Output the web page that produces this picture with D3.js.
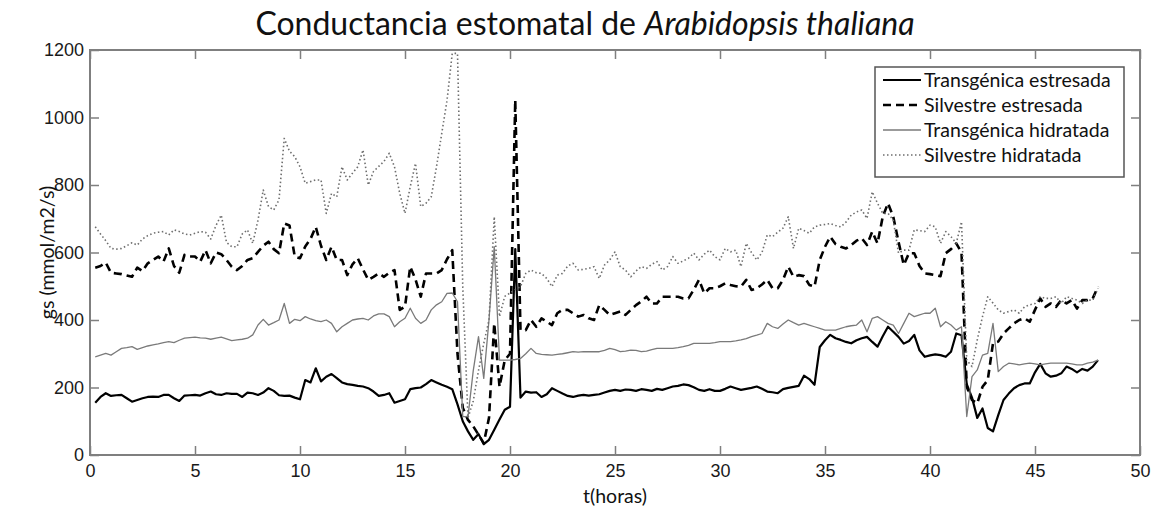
<!DOCTYPE html>
<html>
<head>
<meta charset="utf-8">
<script src="https://cdn.jsdelivr.net/npm/d3@7"></script>
<style>
  body { margin: 0; background: #fff; }
</style>
</head>
<body>
<svg id="chart"></svg>
<script>
// sampling times (h)
var hours = [
  0.25, 0.5, 0.75, 1, 1.25, 1.5, 1.75, 2, 2.25, 2.5, 2.75, 3, 3.25, 3.5, 3.75, 4,
  4.25, 4.5, 4.75, 5, 5.25, 5.5, 5.75, 6, 6.25, 6.5, 6.75, 7, 7.25, 7.5, 7.75, 8,
  8.25, 8.5, 8.75, 9, 9.25, 9.5, 9.75, 10, 10.25, 10.5, 10.75, 11, 11.25, 11.5, 11.75, 12,
  12.25, 12.5, 12.75, 13, 13.25, 13.5, 13.75, 14, 14.25, 14.5, 14.75, 15, 15.25, 15.5, 15.75, 16,
  16.25, 16.5, 16.75, 17, 17.25, 17.5, 17.75, 18, 18.25, 18.5, 18.75, 19, 19.25, 19.5, 19.75, 20,
  20.25, 20.5, 20.75, 21, 21.25, 21.5, 21.75, 22, 22.25, 22.5, 22.75, 23, 23.25, 23.5, 23.75, 24,
  24.25, 24.5, 24.75, 25, 25.25, 25.5, 25.75, 26, 26.25, 26.5, 26.75, 27, 27.25, 27.5, 27.75, 28,
  28.25, 28.5, 28.75, 29, 29.25, 29.5, 29.75, 30, 30.25, 30.5, 30.75, 31, 31.25, 31.5, 31.75, 32,
  32.25, 32.5, 32.75, 33, 33.25, 33.5, 33.75, 34, 34.25, 34.5, 34.75, 35, 35.25, 35.5, 35.75, 36,
  36.25, 36.5, 36.75, 37, 37.25, 37.5, 37.75, 38, 38.25, 38.5, 38.75, 39, 39.25, 39.5, 39.75, 40,
  40.25, 40.5, 40.75, 41, 41.25, 41.5, 41.75, 42, 42.25, 42.5, 42.75, 43, 43.25, 43.5, 43.75, 44,
  44.25, 44.5, 44.75, 45, 45.25, 45.5, 45.75, 46, 46.25, 46.5, 46.75, 47, 47.25, 47.5, 47.75, 48
];

// gs (mmol/m2/s), one value per entry of hours
var transgenicaEstresada = [
  155, 172, 183, 175,  177, 178, 168, 158,  163, 168, 172, 173,  172, 178, 178, 168,
  160, 176, 177, 178,  176, 183, 188, 180,  178, 183, 181, 181,  172, 185, 183, 178,
  185, 198, 190, 177,  175, 176, 170, 165,  222, 215, 257, 218,  232, 240, 228, 215,
  210, 208, 205, 203,  198, 188, 175, 178,  183, 155, 160, 165,  195, 198, 200, 210,
  222, 215, 208, 202,  195, 150, 100, 70,   45, 62, 32, 45,      75, 105, 134, 143,
  610, 170, 188, 185,  186, 172, 180, 198,  190, 182, 175, 172,  176, 178, 176, 178,
  180, 185, 190, 193,  190, 194, 193, 190,  195, 193, 190, 196,  193, 198, 203, 205,
  209, 207, 201, 193,  190, 195, 190, 190,  196, 203, 198, 193,  196, 199, 203, 196,
  188, 186, 183, 195,  199, 202, 205, 235,  225, 208, 320, 340,  356, 346, 341, 335,
  331, 340, 346, 350,  335, 321, 352, 380,  365, 350, 330, 338,  356, 310, 291, 295,
  298, 296, 291, 306,  360, 355, 210, 170,  110, 138, 80, 70,    118, 163, 182, 198,
  207, 212, 212, 245,  270, 242, 232, 235,  242, 262, 255, 245,  255, 250, 262, 281
];

var silvestreEstresada = [
  555, 560, 570, 540,  538, 536, 532, 528,  555, 545, 568, 578,  588, 573, 612, 560,
  540, 593, 588, 588,  573, 607, 568, 600,  595, 578, 558, 548,  560, 578, 583, 602,
  620, 632, 610, 598,  686, 680, 588, 583,  618, 640, 676, 620,  578, 617, 578, 578,
  533, 565, 583, 550,  519, 528, 538, 528,  540, 548, 430, 440,  558, 520, 469, 538,
  538, 538, 548, 580,  607, 300, 140, 104,  85, 60, 35, 110,     390, 202, 281, 300,
  1052, 370, 370, 400, 380, 405, 395, 385,  420, 430, 430, 420,  410, 415, 405, 400,
  444, 430, 415, 420,  425, 415, 430, 444,  455, 469, 449, 449,  469, 469, 469, 469,
  464, 464, 490, 519,  479, 494, 494, 500,  509, 504, 500, 499,  519, 489, 494, 505,
  519, 494, 494, 519,  558, 528, 533, 530,  504, 499, 578, 617,  647, 625, 617, 612,
  622, 635, 642, 622,  662, 627, 706, 746,  706, 632, 563, 598,  598, 560, 538, 536,
  533, 530, 598, 610,  627, 600, 202, 163,  153, 202, 222, 331,  336, 360, 375, 390,
  400, 405, 395, 430,  464, 439, 449, 439,  459, 449, 459, 434,  459, 459, 464, 499
];

var transgenicaHidratada = [
  291, 296, 301, 296,  306, 316, 318, 321,  313, 318, 323, 326,  329, 333, 336, 333,
  340, 346, 348, 349,  347, 346, 343, 346,  349, 344, 339, 341,  343, 346, 356, 385,
  402, 385, 392, 400,  449, 390, 402, 398,  410, 403, 398, 395,  400, 390, 365, 380,
  390, 400, 403, 405,  400, 412, 418, 418,  410, 380, 395, 405,  435, 405, 390, 400,
  430, 445, 454, 479,  480, 454, 114, 114,  250, 351, 227, 400,  617, 281, 281, 281,
  283, 286, 300, 316,  301, 298, 297, 296,  298, 300, 303, 306,  305, 306, 306, 306,
  306, 310, 316, 312,  306, 308, 311, 310,  306, 308, 312, 316,  316, 316, 316, 318,
  321, 325, 331, 331,  331, 331, 333, 336,  336, 336, 338, 341,  345, 351, 355, 360,
  390, 380, 375, 388,  400, 392, 385, 390,  385, 380, 375, 370,  370, 370, 375, 380,
  383, 385, 400, 365,  405, 410, 400, 390,  385, 360, 390, 420,  410, 415, 420, 420,
  435, 380, 395, 385,  370, 380, 114, 232,  252, 296, 301, 390,  247, 262, 272, 270,
  267, 270, 272, 270,  267, 270, 272, 272,  272, 272, 270, 267,  267, 272, 275, 281
];

var silvestreHidratada = [
  676, 655, 635, 612,  610, 612, 620, 629,  622, 640, 650, 657,  660, 662, 652, 667,
  662, 655, 652, 657,  662, 660, 640, 680,  711, 630, 617, 617,  655, 667, 627, 696,
  785, 736, 726, 756,  938, 900, 884, 854,  805, 810, 815, 815,  716, 775, 765, 854,
  815, 835, 854, 904,  800, 840, 855, 870,  894, 854, 775, 716,  795, 864, 736, 746,
  765, 854, 953, 1050, 1190, 1190, 500, 110, 160, 250, 330, 400, 706, 410, 470, 480,
  490, 499, 538, 548,  540, 538, 523, 499,  533, 538, 560, 568,  548, 550, 553, 558,
  523, 563, 578, 602,  558, 548, 528, 545,  558, 553, 565, 573,  548, 558, 588, 568,
  575, 583, 598, 578,  595, 607, 588, 578,  612, 602, 607, 558,  627, 600, 578, 600,
  652, 647, 660, 672,  706, 612, 672, 665,  657, 676, 681, 683,  686, 680, 676, 690,
  711, 720, 726, 701,  780, 746, 716, 716,  696, 598, 607, 607,  667, 665, 662, 681,
  676, 627, 662, 647,  627, 691, 281, 262,  341, 410, 469, 450,  430, 420, 425, 430,
  420, 439, 445, 449,  469, 464, 464, 469,  449, 469, 464, 459,  449, 459, 459, 494
];

var seriesNames = ["Transgénica estresada", "Silvestre estresada", "Transgénica hidratada", "Silvestre hidratada"];
var xTicks = [0, 5, 10, 15, 20, 25, 30, 35, 40, 45, 50];
var yTicks = [0, 200, 400, 600, 800, 1000, 1200];

var width = 1161, height = 516;
var margin = {top: 50, right: 21, bottom: 61, left: 90},
    w = width - margin.left - margin.right,
    h = height - margin.top - margin.bottom;

var x = d3.scaleLinear().domain([0, 50]).range([0, w]);
var y = d3.scaleLinear().domain([0, 1200]).range([h, 0]);

// line look of each series (matlab style)
var styles = [
  {color: "#000", width: 2.2, dash: null},
  {color: "#000", width: 2.6, dash: "8,5"},
  {color: "#7a7a7a", width: 1.3, dash: null},
  {color: "#6e6e6e", width: 1.6, dash: "1.5,2.5"}
];
var values = [transgenicaEstresada, silvestreEstresada, transgenicaHidratada, silvestreHidratada];

var labelFont = "Lato, 'Open Sans', sans-serif";

var svg = d3.select("#chart")
    .attr("width", width)
    .attr("height", height)
    .style("font-family", "'Liberation Sans', Arial, sans-serif");

var g = svg.append("g")
    .attr("transform", "translate(" + margin.left + "," + margin.top + ")");

g.append("clipPath").attr("id", "plotclip")
  .append("rect").attr("width", w).attr("height", h);

// axes, ticks inside on all four sides
var axisColor = "#7f7f7f";

var xAxis = g.append("g")
    .attr("transform", "translate(0," + h + ")")
    .call(d3.axisBottom(x).tickValues(xTicks).tickFormat(d3.format("d"))
      .tickSizeInner(-9).tickSizeOuter(0).tickPadding(8));
var yAxis = g.append("g")
    .call(d3.axisLeft(y).tickValues(yTicks).tickFormat(d3.format("d"))
      .tickSizeInner(-9).tickSizeOuter(0).tickPadding(6));
g.append("g")
    .call(d3.axisTop(x).tickValues(xTicks).tickSizeInner(-9).tickSizeOuter(0).tickFormat(""));
g.append("g")
    .attr("transform", "translate(" + w + ",0)")
    .call(d3.axisRight(y).tickValues(yTicks).tickSizeInner(-9).tickSizeOuter(0).tickFormat(""));

g.selectAll(".domain").remove();
g.selectAll(".tick line").attr("stroke", axisColor).attr("stroke-width", 1.5);
g.selectAll(".tick text")
    .attr("fill", "#1a1a1a")
    .attr("font-size", 18)
    .attr("font-family", "'Liberation Sans', Arial, sans-serif");
xAxis.selectAll(".tick text").attr("dy", "0.8em");

// series
var line = d3.line()
    .x(function(d, i) { return x(hours[i]); })
    .y(function(d) { return y(d); });

g.append("g")
    .attr("clip-path", "url(#plotclip)")
    .selectAll("path")
    .data(values)
    .enter().append("path")
    .attr("fill", "none")
    .attr("stroke", function(d, i) { return styles[i].color; })
    .attr("stroke-width", function(d, i) { return styles[i].width; })
    .attr("stroke-dasharray", function(d, i) { return styles[i].dash; })
    .attr("stroke-linejoin", "round")
    .attr("d", line);

// frame
g.append("rect")
    .attr("width", w)
    .attr("height", h)
    .attr("fill", "none")
    .attr("stroke", axisColor)
    .attr("stroke-width", 2);

// title
var title = svg.append("text")
    .attr("x", 585)
    .attr("y", 35)
    .attr("text-anchor", "middle")
    .attr("font-family", labelFont)
    .attr("font-size", 32)
    .attr("fill", "#111");
title.append("tspan").text("Conductancia estomatal de ");
title.append("tspan").attr("font-style", "italic").text("Arabidopsis thaliana");

// axis labels
svg.append("text")
    .attr("x", 615)
    .attr("y", 503)
    .attr("text-anchor", "middle")
    .attr("font-family", labelFont)
    .attr("font-size", 19.5)
    .attr("fill", "#111")
    .text("t(horas)");

svg.append("text")
    .attr("transform", "translate(54," + (margin.top + h / 2) + ") rotate(-90)")
    .attr("text-anchor", "middle")
    .attr("font-family", labelFont)
    .attr("font-size", 19.5)
    .attr("fill", "#111")
    .text("gs (mmol/m2/s)");

// legend
var legend = svg.append("g")
    .attr("transform", "translate(875,67)");

legend.append("rect")
    .attr("width", 249)
    .attr("height", 110)
    .attr("fill", "#fff")
    .attr("stroke", "#555")
    .attr("stroke-width", 1.5);

var item = legend.selectAll(".item")
    .data(seriesNames)
    .enter().append("g")
    .attr("class", "item")
    .attr("transform", function(d, i) { return "translate(0," + (13 + i * 25) + ")"; });

item.append("line")
    .attr("x1", 8)
    .attr("x2", 46)
    .attr("stroke", function(d, i) { return styles[i].color; })
    .attr("stroke-width", function(d, i) { return styles[i].width; })
    .attr("stroke-dasharray", function(d, i) { return styles[i].dash; });

item.append("text")
    .attr("x", 49)
    .attr("dy", "0.35em")
    .attr("font-family", labelFont)
    .attr("font-size", 19.5)
    .attr("fill", "#111")
    .text(function(d) { return d; });
</script>
</body>
</html>
